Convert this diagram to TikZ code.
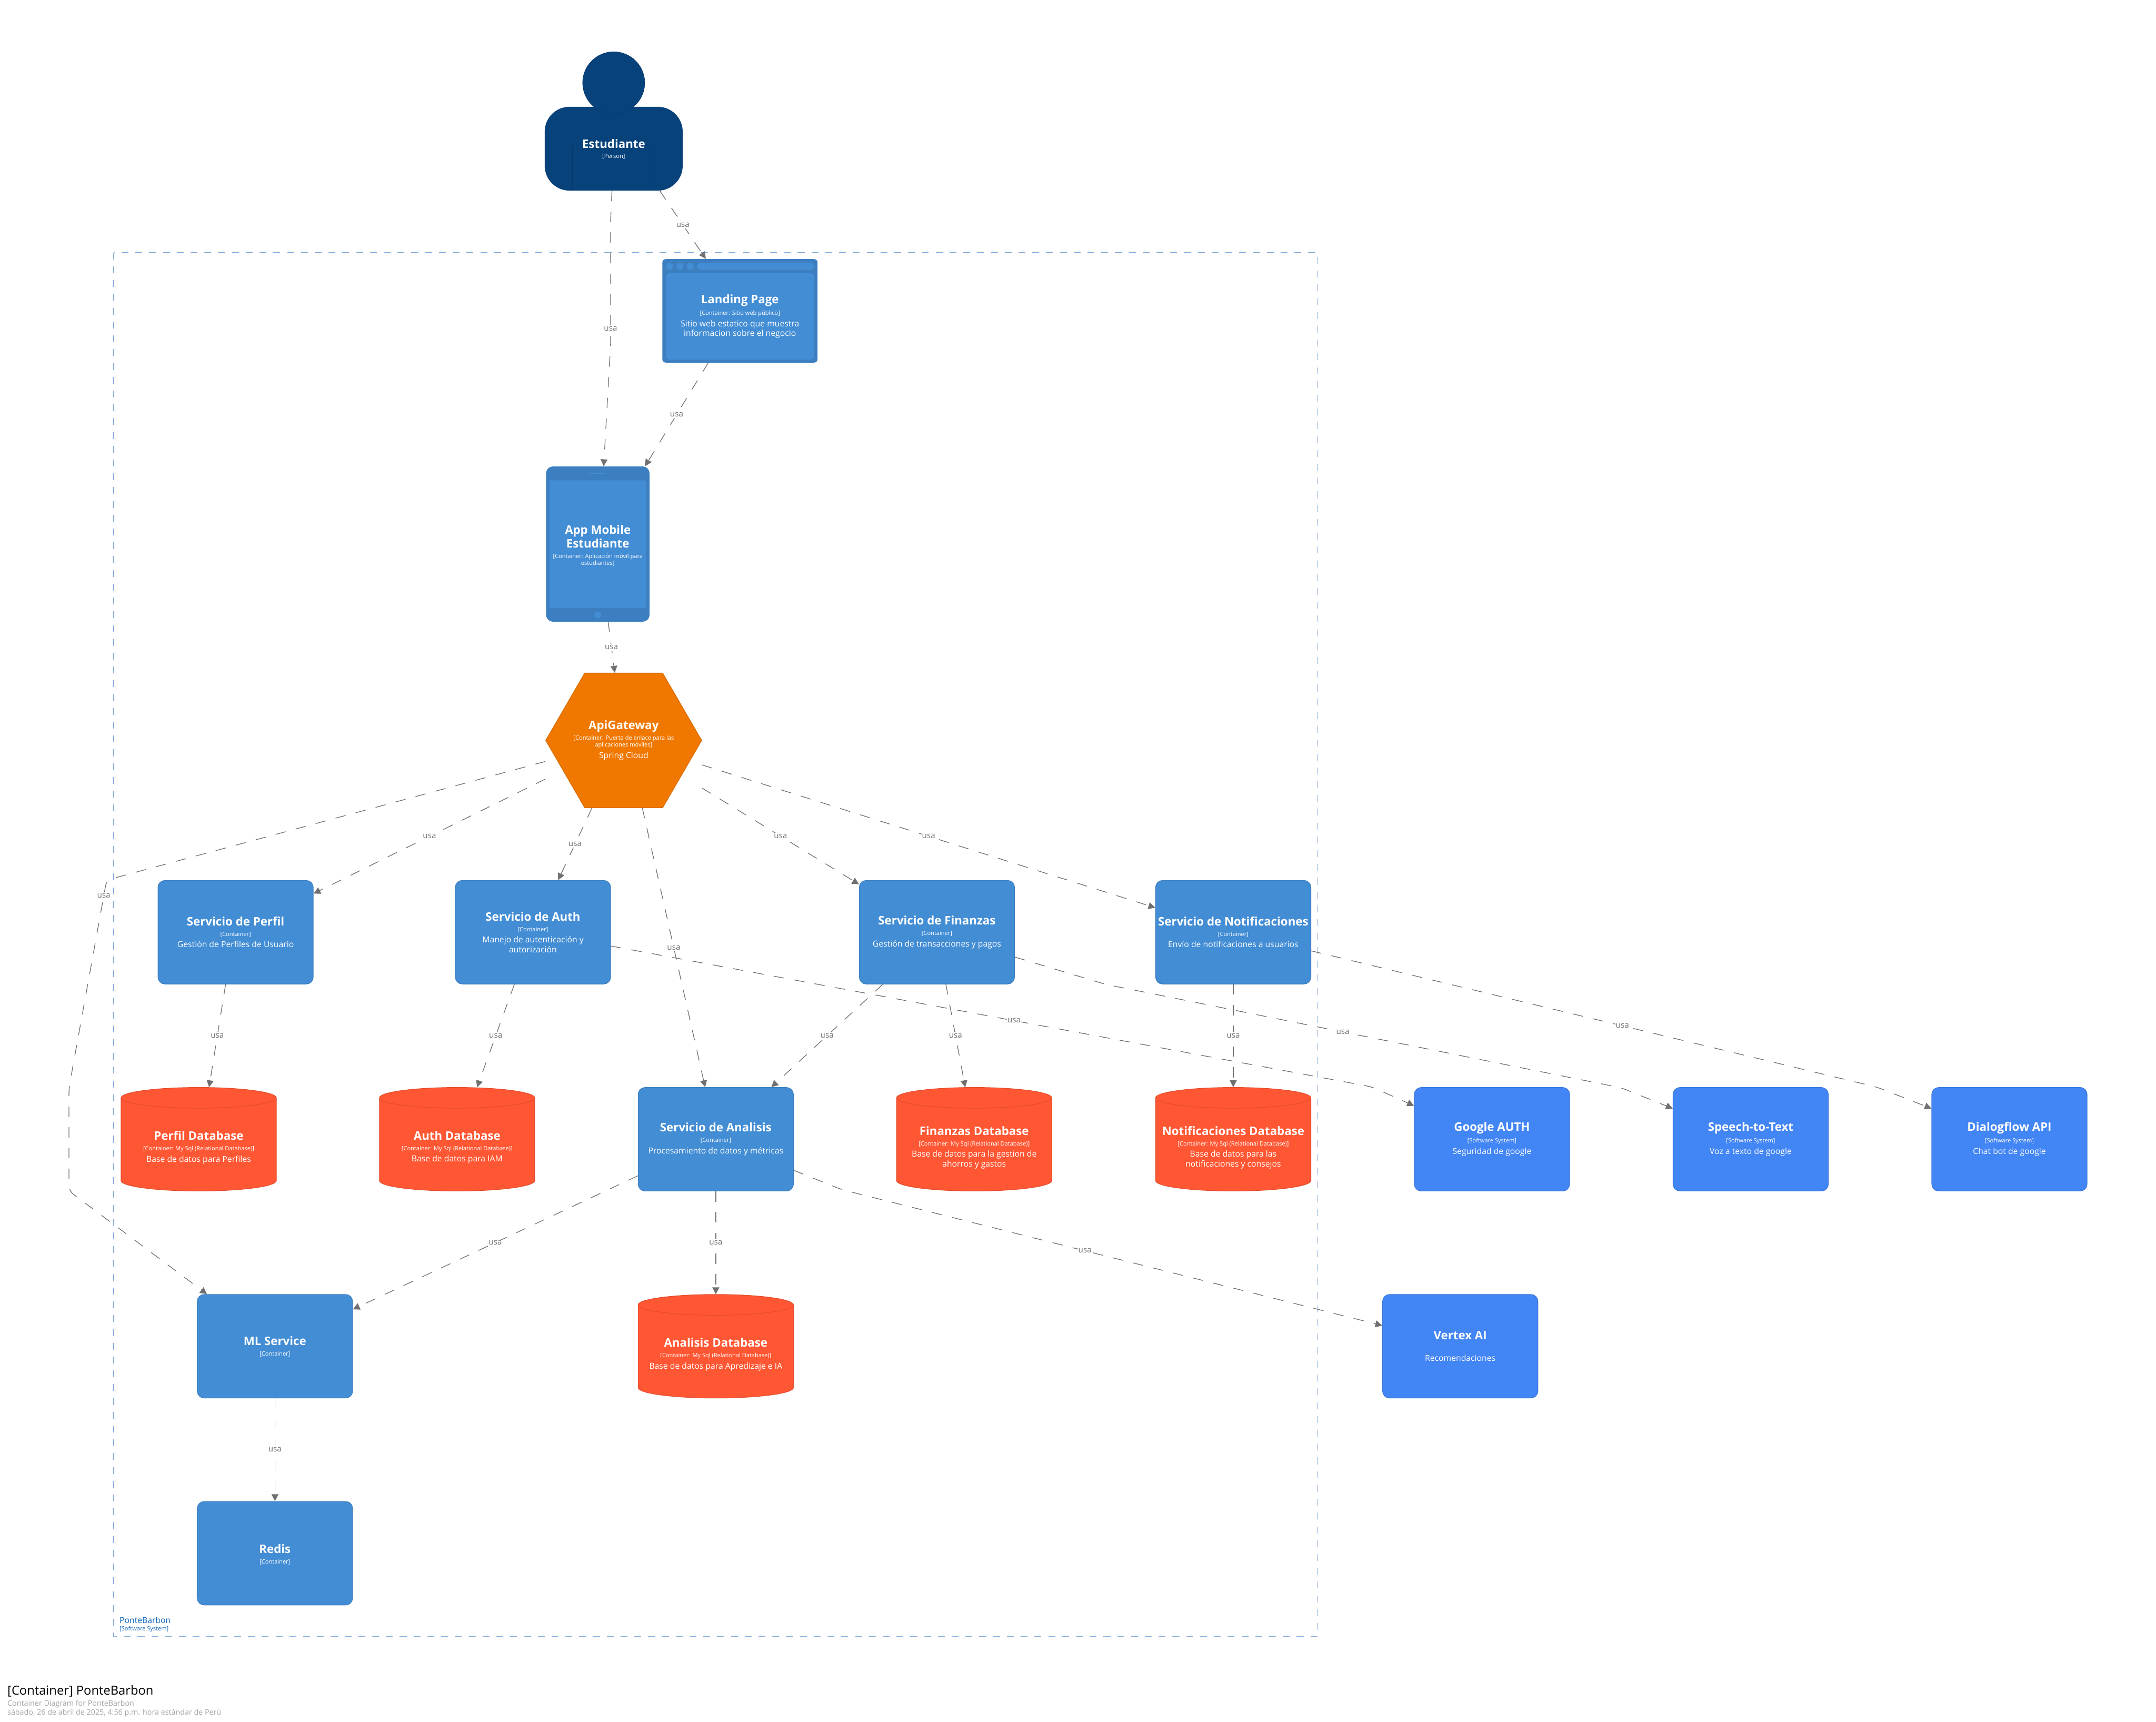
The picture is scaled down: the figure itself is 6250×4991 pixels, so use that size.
\documentclass[tikz,border=0pt]{standalone}
\usepackage{fontspec}
\setmainfont{Open Sans}
\usetikzlibrary{positioning,calc,arrows.meta}
\definecolor{personblue}{HTML}{08427B}
\definecolor{contblue}{HTML}{438DD5}
\definecolor{contdark}{HTML}{3C7FC0}
\definecolor{sysblue}{HTML}{4285F4}
\definecolor{sysdark}{HTML}{3B77DB}
\definecolor{dbred}{HTML}{FF5733}
\definecolor{dbdark}{HTML}{E64E2E}
\definecolor{gworange}{HTML}{F07800}
\definecolor{gwdark}{HTML}{D86C00}
\definecolor{usagray}{HTML}{707070}
\definecolor{bndblue}{HTML}{88AEDC}
\definecolor{bndtext}{HTML}{1168BD}
\newcommand{\namefont}{\fontsize{9.67}{11.38}\selectfont\bfseries}
\newcommand{\metafont}{\fontsize{4.8}{5.97}\selectfont}
\newcommand{\descfont}{\fontsize{6.83}{7.97}\selectfont}
\newcommand{\elemtext}[3]{{\namefont #1\par}\vspace{2.6pt}{\metafont #2\par}\vspace{1.4pt}{\descfont #3\par}}
\newcommand{\dbnode}[3]{%
\begin{scope}[shift={#2}]
\draw[dbshape] (-225,-120) arc[start angle=180,end angle=0,x radius=2.25cm,y radius=0.3cm] -- (225,120) arc[start angle=0,end angle=-180,x radius=2.25cm,y radius=0.3cm] -- cycle;
\draw[dbshape,fill=none] (-225,-120) arc[start angle=180,end angle=360,x radius=2.25cm,y radius=0.3cm];
\node[minimum width=4.5cm,minimum height=3cm,inner sep=0pt] (#1) at (0,0) {};
\node[elembase] (#1text) at (0,24) {#3};
\end{scope}}
\tikzset{
elembase/.style={text=white,align=flush center,line width=0.02cm,inner sep=0pt,text width=4.4cm},
contbox/.style={elembase,rectangle,rounded corners=0.2cm,fill=contblue,draw=contdark,minimum width=4.5cm,minimum height=3cm},
sysbox/.style={contbox,fill=sysblue,draw=sysdark},
dbshape/.style={fill=dbred,draw=dbdark,line width=0.02cm},
personbody/.style={rectangle,rounded corners=0.72cm,fill=personblue,minimum width=4cm,minimum height=2.43cm,inner sep=0pt},
framebox/.style={rectangle,rounded corners=0.1cm,fill=contdark,inner sep=0pt},
innerbox/.style={fill=contblue,rounded corners=0.1cm},
usaline/.style={draw=usagray,line width=0.02cm,rounded corners=0.15cm,dash pattern=on 0.3cm off 0.3cm,-{Triangle[length=0.2cm,width=0.2cm]}},
usatag/.style={fill=white,text=usagray,font=\fontsize{6.6}{8}\selectfont,inner sep=0.04cm},
bndline/.style={draw=bndblue,line width=0.025cm,dash pattern=on 0.2cm off 0.2cm},
captiontext/.style={anchor=west,inner sep=0pt,font=\fontsize{10.3}{12}\selectfont},
captionsub/.style={captiontext,font=\fontsize{6.2}{8}\selectfont,text=black!35}
}
\begin{document}
\begin{tikzpicture}[x=0.1mm,y=-0.1mm]
\useasboundingbox (0,0) rectangle (6250,4991);
\fill[white] (0,0) rectangle (6250,4991);
\draw[bndline] (330,732) rectangle (3820,4743);
\node[anchor=west,inner sep=0pt,text=bndtext,font=\fontsize{6.83}{8}\selectfont] (bndname) at (346,4696) {PonteBarbon};
\node[anchor=west,inner sep=0pt,text=bndtext,font=\fontsize{4.8}{6}\selectfont] (bndmeta) at (346,4722) {[Software System]};
% person
\node[personbody] (student) at (1779,431) {};
\draw[personblue!85!black,line width=0.01cm] (1659,419) -- (1659,553) (1899,419) -- (1899,553);
\node[circle,fill=personblue,draw=personblue!90!black,line width=0.01cm,minimum size=1.8cm,inner sep=0pt] (studenthead) at (1779,240) {};
\node[elembase,text width=3.6cm] (studenttext) at (1779,435) {\elemtext{Estudiante}{[Person]}{}};
% web browser frame
\node[framebox,minimum width=4.5cm,minimum height=3cm] (landing) at (2145,901) {};
\fill[innerbox] (1931,792) rectangle (2360,1042);
\fill[contblue] (1941,772) circle (0.1cm) (1971,772) circle (0.1cm) (2001,772) circle (0.1cm);
\fill[innerbox] (2021,762) rectangle (2360,782);
\node[elembase] (landingtext) at (2145,917) {\elemtext{Landing Page}{[Container: Sitio web público]}{Sitio web estatico que muestra\\informacion sobre el negocio}};
% tablet frame
\node[framebox,rounded corners=0.2cm,minimum width=3cm,minimum height=4.5cm] (appmobile) at (1733,1577) {};
\fill[contblue,rounded corners=0.05cm] (1593,1392) rectangle (1873,1762);
\draw[contblue,line width=0.015cm] (1708,1372) -- (1758,1372);
\fill[contblue] (1733,1782) circle (0.1cm);
\node[elembase,text width=2.8cm] (apptext) at (1733,1584) {\elemtext{App Mobile\\Estudiante}{[Container: Aplicación móvil para\\estudiantes]}{}};
% gateway hexagon
\draw[fill=gworange,draw=gwdark,line width=0.02cm] (1582,2146) -- (1695,1951) -- (1921,1951) -- (2034,2146) -- (1921,2341) -- (1695,2341) -- cycle;
\node[elembase,minimum width=4.52cm,minimum height=3.9cm] (gateway) at (1808,2146) {\elemtext{ApiGateway}{[Container: Puerta de enlace para las\\aplicaciones móviles]}{Spring Cloud}};
% services
\node[contbox] (perfil) at (683,2702) {\elemtext{Servicio de Perfil}{[Container]}{Gestión de Perfiles de Usuario}};
\node[contbox] (auth) at (1545,2702) {\elemtext{Servicio de Auth}{[Container]}{Manejo de autenticación y\\autorización}};
\node[contbox] (finanzas) at (2716,2702) {\elemtext{Servicio de Finanzas}{[Container]}{Gestión de transacciones y pagos}};
\node[contbox] (notif) at (3575,2702) {\elemtext{Servicio de Notificaciones}{[Container]}{Envío de notificaciones a usuarios}};
\node[contbox] (analisis) at (2075,3302) {\elemtext{Servicio de Analisis}{[Container]}{Procesamiento de datos y métricas}};
\node[contbox] (ml) at (797,3902) {};
\node[elembase] (mltext) at (797,3906) {\elemtext{ML Service}{[Container]}{}};
\node[contbox] (redis) at (797,4502) {};
\node[elembase] (redistext) at (797,4508) {\elemtext{Redis}{[Container]}{}};
% databases
\dbnode{perfildb}{(576,3302)}{\elemtext{Perfil Database}{[Container: My Sql (Relational Database)]}{Base de datos para Perfiles}}
\dbnode{authdb}{(1325,3302)}{\elemtext{Auth Database}{[Container: My Sql (Relational Database)]}{Base de datos para IAM}}
\dbnode{finanzasdb}{(2824,3302)}{\elemtext{Finanzas Database}{[Container: My Sql (Relational Database)]}{Base de datos para la gestion de\\ahorros y gastos}}
\dbnode{notifdb}{(3575,3302)}{\elemtext{Notificaciones Database}{[Container: My Sql (Relational Database)]}{Base de datos para las\\notificaciones y consejos}}
\dbnode{analisisdb}{(2075,3902)}{\elemtext{Analisis Database}{[Container: My Sql (Relational Database)]}{Base de datos para Apredizaje e IA}}
% external systems
\node[sysbox] (google) at (4325,3302) {\elemtext{Google AUTH}{[Software System]}{Seguridad de google}};
\node[sysbox] (speech) at (5075,3302) {\elemtext{Speech-to-Text}{[Software System]}{Voz a texto de google}};
\node[sysbox] (dialogflow) at (5825,3302) {\elemtext{Dialogflow API}{[Software System]}{Chat bot de google}};
\node[sysbox] (vertex) at (4233,3902) {\elemtext{Vertex AI}{~}{Recomendaciones}};
% connectors
\coordinate (bendA) at (1770,640);
\coordinate (bendB) at (1770,1000);
\coordinate (bendC) at (309,2551);
\coordinate (bendJ) at (200,3153);
\coordinate (bendD) at (200,3452);
\coordinate (bendE) at (3976,3150);
\coordinate (bendF) at (3205,2853);
\coordinate (bendG) at (4700,3153);
\coordinate (bendH) at (5441,3151);
\coordinate (bendI) at (2440,3448);
\draw[usaline] ([xshift=-0.05cm]student.south) -- (bendA) -- node[usatag,pos=0.87] (usaA) {usa} (bendB) -- ([xshift=0.17cm]appmobile.north);
\draw[usaline] ([xshift=1.34cm]student.south) -- node[usatag] (usaB) {usa} ([xshift=-0.99cm]landing.north);
\draw[usaline] ([xshift=-0.92cm]landing.south) -- node[usatag] (usaC) {usa} ([xshift=1.37cm]appmobile.north);
\draw[usaline] ([xshift=0.30cm]appmobile.south) -- node[usatag] (usaD) {usa} ([xshift=-0.26cm]gateway.north);
\draw[usaline] ([yshift=-1.12cm]gateway.west) -- node[usatag] (usaE) {usa} ([yshift=1.12cm]perfil.east);
\draw[usaline] ([yshift=-0.61cm]gateway.west) -- (bendC) -- node[usatag,pos=0.076] (usaF) {usa} (bendJ) -- (bendD) -- ([xshift=-1.97cm]ml.north);
\draw[usaline] ([xshift=-0.92cm]gateway.south) -- node[usatag] (usaG) {usa} ([xshift=0.73cm]auth.north);
\draw[usaline] ([xshift=0.54cm]gateway.south) -- node[usatag] (usaH) {usa} ([xshift=-0.31cm]analisis.north);
\draw[usaline] ([yshift=-1.38cm]gateway.east) -- node[usatag] (usaI) {usa} ([yshift=1.39cm]finanzas.west);
\draw[usaline] ([yshift=-0.71cm]gateway.east) -- node[usatag] (usaJ) {usa} ([yshift=0.71cm]notif.west);
\draw[usaline] ([xshift=-0.29cm]perfil.south) -- node[usatag] (usaK) {usa} ([xshift=0.30cm]perfildb.north);
\draw[usaline] ([xshift=-0.54cm]auth.south) -- node[usatag] (usaL) {usa} ([xshift=0.58cm]authdb.north);
\draw[usaline] ([yshift=-0.40cm]auth.east) -- node[usatag,pos=0.53] (usaM) {usa} (bendE) -- ([yshift=0.97cm]google.west);
\draw[usaline] ([yshift=-0.72cm]finanzas.east) -- (bendF) -- node[usatag,pos=0.46] (usaN) {usa} (bendG) -- ([yshift=0.89cm]speech.west);
\draw[usaline] ([yshift=-0.54cm]notif.east) -- node[usatag,pos=0.55] (usaO) {usa} (bendH) -- ([yshift=0.89cm]dialogflow.west);
\draw[usaline] ([xshift=0.26cm]finanzas.south) -- node[usatag] (usaP) {usa} ([xshift=-0.26cm]finanzasdb.north);
\draw[usaline] ([xshift=-1.57cm]finanzas.south) -- node[usatag] (usaQ) {usa} ([xshift=1.61cm]analisis.north);
\draw[usaline] (notif.south) -- node[usatag] (usaR) {usa} (notifdb.north);
\draw[usaline] (analisis.south) -- node[usatag] (usaS) {usa} (analisisdb.north);
\draw[usaline] ([yshift=-1.06cm]analisis.west) -- node[usatag] (usaT) {usa} ([yshift=1.07cm]ml.east);
\draw[usaline] ([yshift=-0.90cm]analisis.east) -- (bendI) -- node[usatag,pos=0.45] (usaU) {usa} ([yshift=0.60cm]vertex.west);
\draw[usaline] (ml.south) -- node[usatag] (usaV) {usa} (redis.north);
% caption
\node[captiontext] (captionA) at (21,4902) {[Container] PonteBarbon};
\node[captionsub] (captionB) at (21,4939) {Container Diagram for PonteBarbon};
\node[captionsub] (captionC) at (21,4964) {sábado, 26 de abril de 2025, 4:56 p.m. hora estándar de Perú};
\end{tikzpicture}
\end{document}
